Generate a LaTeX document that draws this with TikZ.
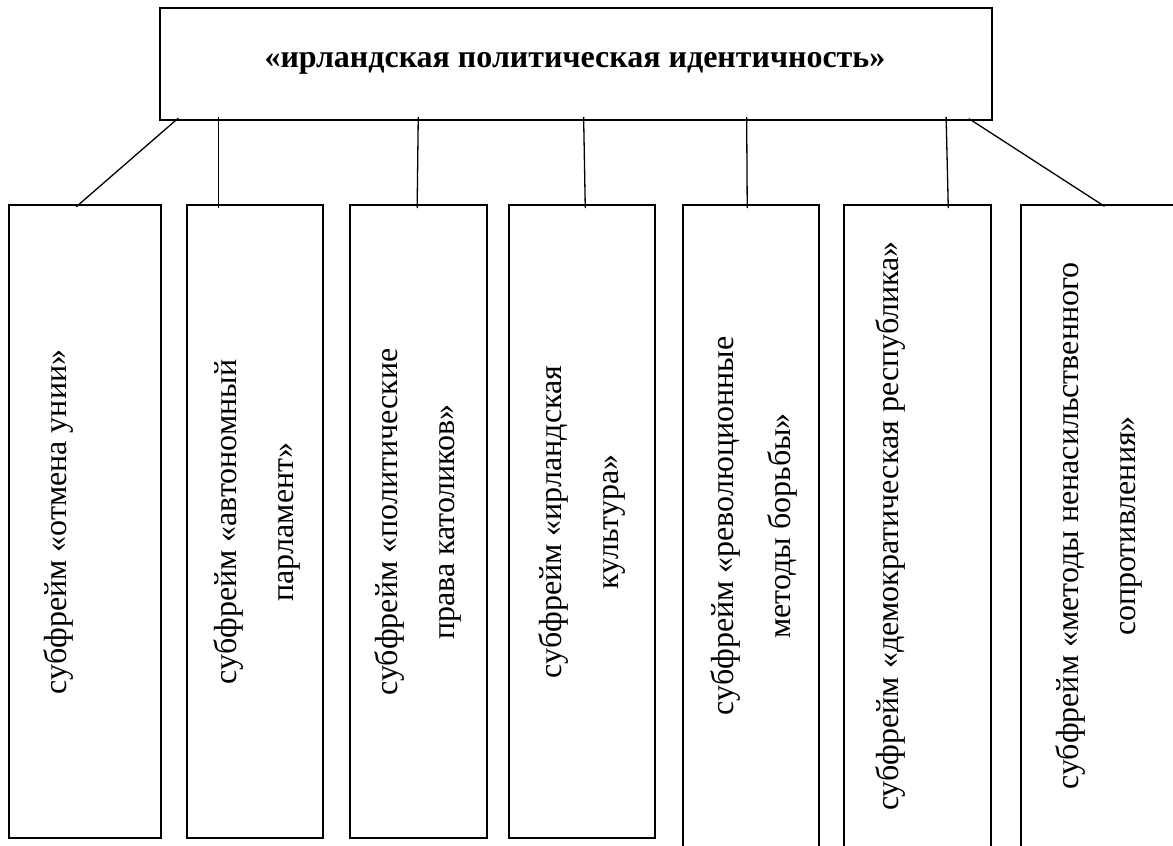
\documentclass[tikz,border=0pt]{standalone}
\usepackage{fontspec}
\setmainfont{Liberation Serif}
\usetikzlibrary{positioning}
\begin{document}
\begin{tikzpicture}[x=1pt,y=-1pt]
\tikzstyle{main}=[rectangle, draw=black, line width=1.6pt, minimum width=832pt, minimum height=112pt]
\tikzstyle{box}=[rectangle, draw=black, line width=1.6pt, inner sep=0pt]
\tikzstyle{connect}=[line width=1.3pt, shorten <=-4pt, shorten >=-4pt]
\tikzstyle{sub}=[rotate=90, anchor=north, align=center, inner sep=0pt, font=\fontsize{32}{57}\selectfont]
\useasboundingbox (0,0) rectangle (1173,846);
  \node[main] (frame) at (576,64) {};
  \node[anchor=base, font=\fontsize{32}{38}\selectfont\bfseries] (title) at (575,67) {«ирландская политическая идентичность»};
  \node[box, minimum width=152pt, minimum height=633pt] (s1) at (85,521.5) {};
  \node[box, minimum width=136pt, minimum height=633pt] (s2) at (255,521.5) {};
  \node[box, minimum width=137pt, minimum height=633pt] (s3) at (418.5,521.5) {};
  \node[box, minimum width=146pt, minimum height=633pt] (s4) at (582,521.5) {};
  \node[box, minimum width=136pt, minimum height=700pt] (s5) at (751,555) {};
  \node[box, minimum width=147pt, minimum height=700pt] (s6) at (917.5,555) {};
  \node[box, minimum width=179pt, minimum height=700pt] (s7) at (1110.5,555) {};
  \node[sub] (t1) at (43,522) {субфрейм «отмена унии»};
  \node[sub] (t2) at (213,522) {субфрейм «автономный\\парламент»};
  \node[sub] (t3) at (374,522) {субфрейм «политические\\права католиков»};
  \node[sub] (t4) at (538,522) {субфрейм «ирландская\\культура»};
  \node[sub] (t5) at (710,526) {субфрейм «революционные\\методы борьбы»};
  \node[sub] (t6) at (875,526) {субфрейм «демократическая республика»};
  \node[sub] (t7) at (1055,526) {субфрейм «методы ненасильственного\\сопротивления»};

  \path
  		([xshift=16pt]frame.south west) edge [connect] ([xshift=71pt]s1.north west)
  		([xshift=59pt]frame.south west) edge [connect] ([xshift=32pt]s2.north west)
  		([xshift=259pt]frame.south west) edge [connect] ([xshift=68pt]s3.north west)
  		([xshift=424.5pt]frame.south west) edge [connect] ([xshift=77pt]s4.north west)
  		([xshift=587.5pt]frame.south west) edge [connect] ([xshift=65pt]s5.north west)
  		([xshift=787pt]frame.south west) edge [connect] ([xshift=105pt]s6.north west)
  		([xshift=813pt]frame.south west) edge [connect] ([xshift=81pt]s7.north west);
\end{tikzpicture}
\end{document}
